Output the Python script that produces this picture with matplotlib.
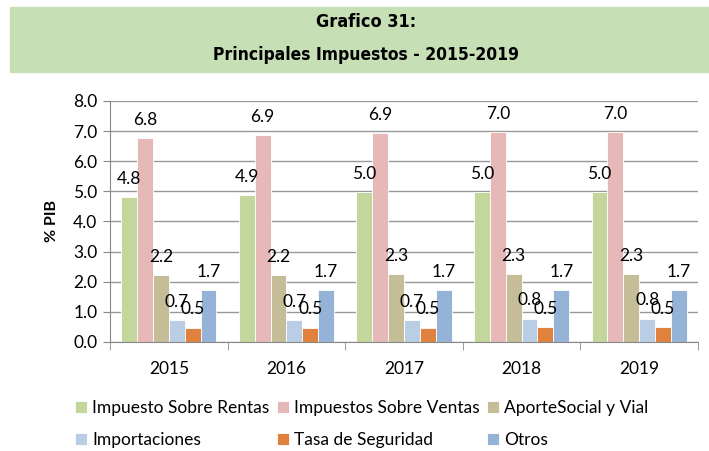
import matplotlib.pyplot as plt
import matplotlib.patches as mpatches
import numpy as np

years = ['2015', '2016', '2017', '2018', '2019']
series = ['Impuesto Sobre Rentas', 'Impuestos Sobre Ventas', 'AporteSocial y Vial',
          'Importaciones', 'Tasa de Seguridad', 'Otros']
rentas = [4.82, 4.88, 4.99, 4.99, 4.99]
ventas = [6.77, 6.87, 6.94, 6.97, 6.97]
aporte = [2.21, 2.21, 2.27, 2.27, 2.27]
importaciones = [0.73, 0.73, 0.72, 0.78, 0.78]
tasa = [0.48, 0.48, 0.48, 0.51, 0.51]
otros = [1.74, 1.74, 1.74, 1.71, 1.71]
values = [rentas, ventas, aporte, importaciones, tasa, otros]
colors = ['#C3D69B', '#E6B9B8', '#C4BD97', '#B9CDE5', '#E0823D', '#95B3D7']

plt.rcParams['font.family'] = ['Lato', 'DejaVu Sans']

fig = plt.figure(figsize=(7.09, 4.51), dpi=100)

# title banner
banner = mpatches.Rectangle((10 / 709, 1 - 72 / 451), 699 / 709, 65 / 451,
                            transform=fig.transFigure, color='#C6DFB5', zorder=0)
fig.patches.append(banner)
fig.text(0.516, 1 - 22 / 451, 'Grafico 31:', ha='center', va='center',
         fontsize=13, fontweight='bold', family='DejaVu Sans', fontstretch='condensed')
fig.text(0.516, 1 - 55 / 451, 'Principales Impuestos - 2015-2019', ha='center', va='center',
         fontsize=12.5, fontweight='bold', family='DejaVu Sans', fontstretch='condensed')

ax = fig.add_axes([110 / 709, 1 - 342 / 451, 588 / 709, 241 / 451])
x = np.arange(len(years))
w = 0.135
handles = []
for i, (vals, col) in enumerate(zip(values, colors)):
    pos = x + (i - 2.5) * w
    bars = ax.bar(pos, vals, w, color=col, edgecolor='white', linewidth=0.6,
                  label=series[i], zorder=2)
    handles.append(bars)
    for p, v in zip(pos, vals):
        ax.annotate('%.1f' % v, xy=(p, v), xytext=(0, 13), textcoords='offset points',
                    ha='center', va='center', fontsize=12.5, zorder=3)

ax.set_ylim(0, 8)
ax.set_xlim(-0.5, 4.5)
ax.set_yticks(np.arange(0, 8.1, 1))
ax.set_yticklabels(['%.1f' % t for t in np.arange(0, 8.1, 1)], fontsize=12.5)
ax.set_xticks(x)
ax.set_xticklabels(years, fontsize=12.5)
ax.tick_params(axis='x', length=0, pad=14)
ax.set_xticks(np.arange(-0.5, 4.6, 1), minor=True)
ax.tick_params(axis='x', which='minor', length=6, color='#888888')
ax.tick_params(axis='y', length=5, color='#888888', pad=4)
ax.grid(axis='y', color='#999999', linewidth=1, zorder=0)
for s in ['top', 'right']:
    ax.spines[s].set_visible(False)
for s in ['left', 'bottom']:
    ax.spines[s].set_color('#888888')
ax.set_ylabel('% PIB', fontsize=11.5, fontweight='bold', labelpad=10)

# legend filled row-wise like Excel
order = [0, 3, 1, 4, 2, 5]
fig.legend([handles[i] for i in order], [series[i] for i in order], ncol=3,
           loc='center', bbox_to_anchor=(0.51, 1 - 424 / 451), frameon=False,
           fontsize=12.5, handlelength=0.7, handleheight=0.7, handletextpad=0.3,
           columnspacing=0.4, labelspacing=0.9)

fig.savefig('out.png', dpi=100)
